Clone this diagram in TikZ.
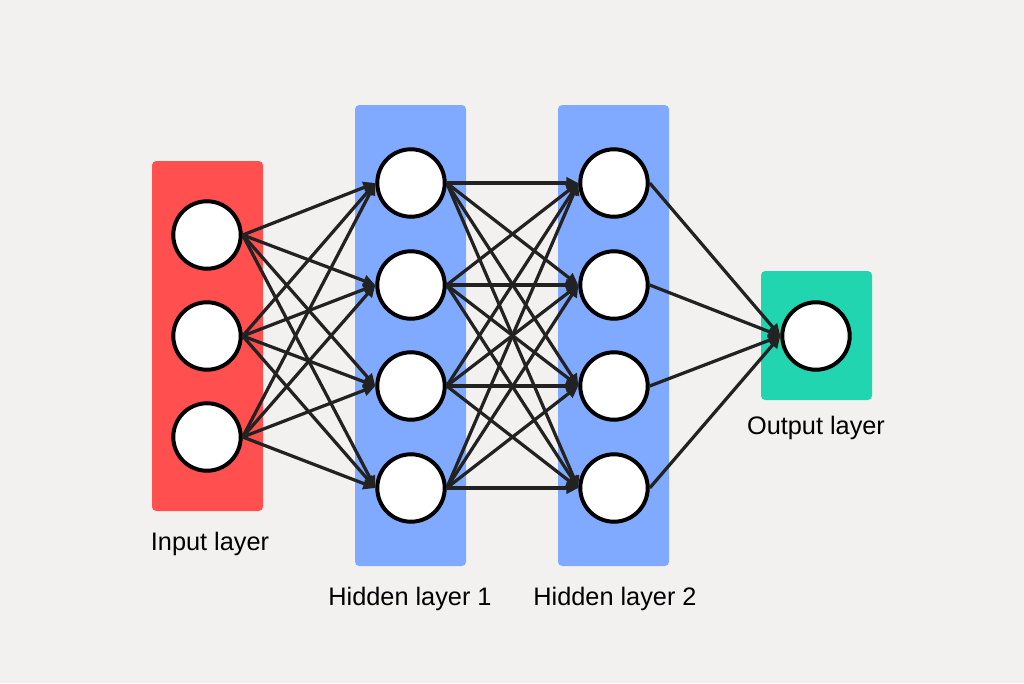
\documentclass[tikz,border=0pt]{standalone}
\usepackage{fontspec}
\setmainfont{Liberation Sans}
\usetikzlibrary{arrows.meta}
\definecolor{bgcol}{HTML}{F2F1EF}
\definecolor{incol}{HTML}{FF4F4F}
\definecolor{hidcol}{HTML}{80AAFF}
\definecolor{outcol}{HTML}{20D5B0}
\definecolor{linecol}{HTML}{222222}
\tikzset{
  neuron/.style={circle,draw=black,line width=2.4pt,fill=white,minimum size=1.7cm,inner sep=0pt},
  layerbox/.style={rounded corners=3pt,draw=none},
  link/.style={draw=linecol,line width=2.3pt,-{Triangle[length=8.5pt,width=8pt]}},
  layername/.style={font=\fontsize{18}{20}\selectfont,text=black}
}
\begin{document}
\begin{tikzpicture}[x=0.025cm,y=-0.025cm]
  \fill[bgcol] (0,0) rectangle (1024,683);
  \useasboundingbox (0,0) rectangle (1024,683);
  \fill[layerbox,incol] (152,161) rectangle (263,511);
  \fill[layerbox,hidcol] (355,105) rectangle (466,566);
  \fill[layerbox,hidcol] (558,105) rectangle (669,566);
  \fill[layerbox,outcol] (761,271) rectangle (872,400);
  % connections
  \foreach \y [count=\i] in {235,336,437}
    \node[neuron] (in\i) at (207,\y) {};
  \foreach \y [count=\i] in {183,285,386,488}
  {
    \node[neuron] (ha\i) at (411,\y) {};
    \node[neuron] (hb\i) at (614,\y) {};
  }
  \node[neuron] (out) at (816,336) {};
  \foreach \i in {1,...,3}
    \foreach \j in {1,...,4}
      \draw[link] (in\i.east) -- (ha\j.west);
  \foreach \i in {1,...,4}
    \foreach \j in {1,...,4}
      \draw[link] (ha\i.east) -- (hb\j.west);
  \foreach \i in {1,...,4}
    \draw[link] (hb\i.east) -- (out.west);
  % neurons on top
  \foreach \n in {in1,in2,in3,ha1,ha2,ha3,ha4,hb1,hb2,hb3,hb4,out}
    \draw[line width=2.4pt,fill=white] (\n.center) circle (0.835cm);
  % labels
  \node[layername] (inlabel) at (210,544) {Input layer};
  \node[layername] (halabel) at (410,599) {Hidden layer 1};
  \node[layername] (hblabel) at (615,599) {Hidden layer 2};
  \node[layername] (outlabel) at (816,428) {Output layer};
\end{tikzpicture}
\end{document}
